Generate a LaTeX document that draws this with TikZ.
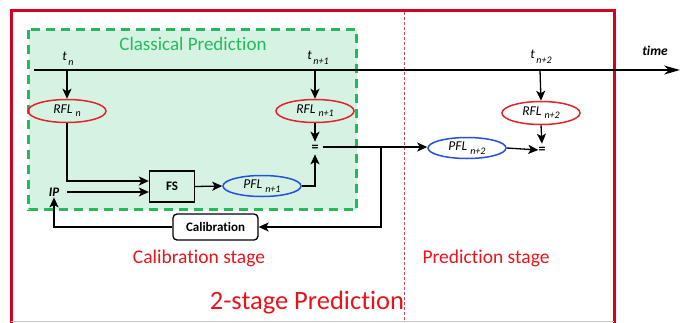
\documentclass[tikz,border=0pt]{standalone}
\usepackage{fontspec}
\setmainfont{Carlito}[Ligatures=NoCommon]
\usetikzlibrary{arrows.meta,shapes.geometric,calc}

\definecolor{framered}{HTML}{D5001F}
\definecolor{textred}{HTML}{E8141C}
\definecolor{stagered}{HTML}{C8485A}
\definecolor{classgreen}{HTML}{22BB5C}
\definecolor{classfill}{HTML}{D6F2E3}
\definecolor{rflred}{HTML}{E3232B}
\definecolor{pflblue}{HTML}{2352E0}

\tikzset{
  conn/.style={line width=1.3pt, black},
  arr/.style={conn, -{Stealth[length=10pt,width=9pt,inset=2.5pt]}},
  timearr/.style={conn, -{Stealth[length=16pt,width=9pt,inset=5pt]}},
  rfl/.style={ellipse, draw=rflred, line width=1.5pt, minimum width=78pt, minimum height=23pt, inner sep=0pt, font=\fontsize{13.5}{13.5}\selectfont\itshape},
  pfl/.style={ellipse, draw=pflblue, line width=1.5pt, minimum width=78pt, minimum height=21pt, inner sep=0pt, font=\fontsize{13.5}{13.5}\selectfont\itshape},
  boxnode/.style={draw=black, line width=1.3pt, inner sep=0pt, font=\fontsize{13}{13}\selectfont\bfseries},
  tlabel/.style={inner sep=0pt, font=\fontsize{13.5}{13.5}\selectfont\itshape},
  eqnode/.style={inner sep=1pt, font=\fontsize{14}{14}\selectfont\bfseries},
  stagetext/.style={inner sep=0pt, text=textred, font=\fontsize{19.5}{19.5}\selectfont},
}
\newcommand{\withsub}[3]{#1\kern1.5pt\raisebox{-#3}{\fontsize{10}{10}\selectfont #2}}

\begin{document}
\begin{tikzpicture}[x=1pt,y=-1pt]
\useasboundingbox (0,0) rectangle (680,322);

% classical prediction area
\draw[fill=classfill, draw=classgreen, line width=2.8pt, dash pattern=on 9pt off 6pt]
  (28.5,29.5) rectangle (356.5,209.5);
\node[inner sep=0pt, text=classgreen, font=\fontsize{19}{19}\selectfont] (classtitle) at (193,44) {Classical Prediction};

% outer frame, open at the bottom edge
\begin{scope}
  \clip (0,0) rectangle (680,322);
  \draw[framered, line width=3pt] (11,340) -- (11,10.5) -- (614,10.5) -- (614,340);
\end{scope}
\draw[black!22, line width=0.8pt] (11,321) -- (614,321);

% boundary between the two stages
\draw[stagered, line width=0.9pt, dash pattern=on 3pt off 2pt] (404,12) -- (404,322);

% time axis
\coordinate (axisstart) at (34,70);
\coordinate (axisend) at (680,70);
\draw[timearr] (axisstart) -- (axisend);
\node[inner sep=0pt, font=\fontsize{13.5}{13.5}\selectfont\bfseries\itshape] (timelabel) at (655,51) {time};

\coordinate (tn) at (67,70);
\coordinate (tn1) at (315,70);
\coordinate (tn2) at (540,70);
\node[tlabel] (ltn) at (68,59) {\withsub{t}{n}{5pt}};
\node[tlabel] (ltn1) at (318,58) {\withsub{t}{n+1}{5pt}};
\node[tlabel] (ltn2) at (541,57) {\withsub{t}{n+2}{5pt}};

% nodes
\node[rfl] (rfln) at (67,111) {\withsub{RFL}{\kern1.5pt n}{3pt}};
\node[rfl] (rfln1) at (315,111) {\withsub{RFL}{\kern1.5pt n+1}{3pt}};
\node[rfl] (rfln2) at (541,113) {\withsub{RFL}{\kern1.5pt n+2}{3pt}};

\node[eqnode] (eq1) at (315,148) {=};
\node[eqnode] (eq2) at (542,150) {=};

\node[boxnode, minimum width=45pt, minimum height=31pt] (fs) at (172,186.5) {FS};
\node[pfl] (pfl1) at (262,186) {\withsub{PFL}{\kern1.5pt n+1}{4pt}};
\node[pfl] (pfl2) at (467,148) {\withsub{PFL}{\kern1.5pt n+2}{4pt}};

\node[inner sep=0pt, font=\fontsize{13}{13}\selectfont\bfseries\itshape] (ip) at (54,192) {IP};
\coordinate (ipout) at (67,192);

\node[boxnode, rounded corners=4pt, minimum width=85pt, minimum height=26pt] (calib) at (215.5,227) {Calibration};

% connectors
\draw[arr] (tn) -- (rfln.north);
\draw[arr] (tn1) -- (rfln1.north);
\draw[arr] (tn2) -- (rfln2.north);

\draw[arr] (rfln.south) |- ([yshift=5.5pt]fs.west);
\draw[arr] (ipout) -- (fs.west |- ipout);
\draw[arr] (fs.east) -- (pfl1.west);
\draw[arr] (pfl1.east) -| ([yshift=-2pt]eq1.south);
\draw[arr] (rfln1.south) -- ([yshift=2pt]eq1.north);

\coordinate (branch) at (381,147);
\draw[arr] ([xshift=3pt]eq1.east |- branch) -- (pfl2.west |- branch);
\draw[arr] (branch) |- (calib.east);
\draw[arr] (calib.west) -| ([yshift=-1pt]ip.south);

\draw[arr] (rfln2.south) -- ([yshift=2pt]eq2.north);
\draw[arr] (pfl2.east) -- ([xshift=1pt]eq2.west);

% stage captions
\node[stagetext] (calibstage) at (199,258) {Calibration stage};
\node[stagetext] (predstage) at (486,258) {Prediction stage};
\node[inner sep=0pt, text=textred, font=\fontsize{26.5}{26.5}\selectfont] (title) at (307,303) {2-stage Prediction};
\end{tikzpicture}
\end{document}
